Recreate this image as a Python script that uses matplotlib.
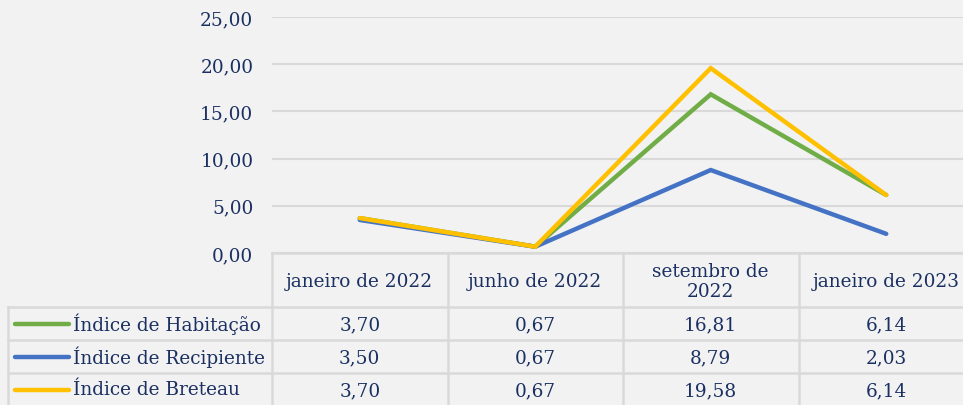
import matplotlib.pyplot as plt

# dados
categorias = ["janeiro de 2022", "junho de 2022", "setembro de\n2022", "janeiro de 2023"]
series = ["Índice de Habitação", "Índice de Recipiente", "Índice de Breteau"]
habitacao = [3.70, 0.67, 16.81, 6.14]
recipiente = [3.50, 0.67, 8.79, 2.03]
breteau = [3.70, 0.67, 19.58, 6.14]
yticks = [0, 5, 10, 15, 20, 25]

valores = [habitacao, recipiente, breteau]
cores = ["#70ad47", "#4472c4", "#ffc000"]
texto = "#1b3062"
grade = "#d9d9d9"
fundo = "#f2f2f2"
fs = 13.3

plt.rcParams['font.family'] = ['DejaVu Serif']

W, H = 963, 406
fig = plt.figure(figsize=(W / 100, H / 100), dpi=100)
fig.patch.set_facecolor(fundo)

# area do grafico (em pixels)
x0, x1 = 272, 974
ytop, ybot = 18, 254
ax = fig.add_axes([x0 / W, 1 - ybot / H, (x1 - x0) / W, (ybot - ytop) / H])
ax.set_facecolor("none")
ax.set_xlim(-0.5, len(categorias) - 0.5)
ax.set_ylim(0, 25)
ax.set_yticks(yticks)
ax.set_yticklabels([f"{v:.2f}".replace(".", ",") for v in yticks],
                   color=texto, fontsize=fs)
ax.tick_params(axis="y", length=0, pad=13.5)
ax.set_xticks([])
for s in ax.spines.values():
    s.set_visible(False)
ax.grid(axis="y", color=grade, lw=1.5)
ax.set_axisbelow(True)

xs = list(range(len(categorias)))
for vals, c in zip(valores, cores):
    ax.plot(xs, vals, color=c, lw=3.2, solid_capstyle="round", solid_joinstyle="miter", zorder=3)

# tabela de dados
tb = fig.add_axes([0, 0, 1, 1])
tb.set_xlim(0, W)
tb.set_ylim(H, 0)
tb.axis("off")

colw = (x1 - x0) / len(categorias)
linhas = [254, 308, 341, 374, 407]
for i in range(len(categorias) + 1):
    xx = x0 + i * colw
    tb.plot([xx, xx], [linhas[0], H], color=grade, lw=1.8)
tb.plot([8, 8], [linhas[1], H], color=grade, lw=1.8)
tb.plot([x0, W], [linhas[0], linhas[0]], color=grade, lw=1.8)
for yy in linhas[1:]:
    tb.plot([8, W], [yy, yy], color=grade, lw=1.8)

for i, cat in enumerate(categorias):
    tb.text(x0 + (i + 0.5) * colw, (linhas[0] + linhas[1]) / 2 + 1, cat,
            ha="center", va="center", color=texto, fontsize=fs, linespacing=1.15)

for r, (nome, vals, c) in enumerate(zip(series, valores, cores)):
    yc = (linhas[r + 1] + linhas[r + 2]) / 2
    tb.plot([15, 69], [yc, yc], color=c, lw=3.2, solid_capstyle="round")
    tb.text(73, yc, nome, ha="left", va="center", color=texto, fontsize=fs)
    for i, v in enumerate(vals):
        tb.text(x0 + (i + 0.5) * colw, yc + 1, f"{v:.2f}".replace(".", ","),
                ha="center", va="center", color=texto, fontsize=fs)

fig.savefig("out.png", dpi=100, facecolor=fundo)
